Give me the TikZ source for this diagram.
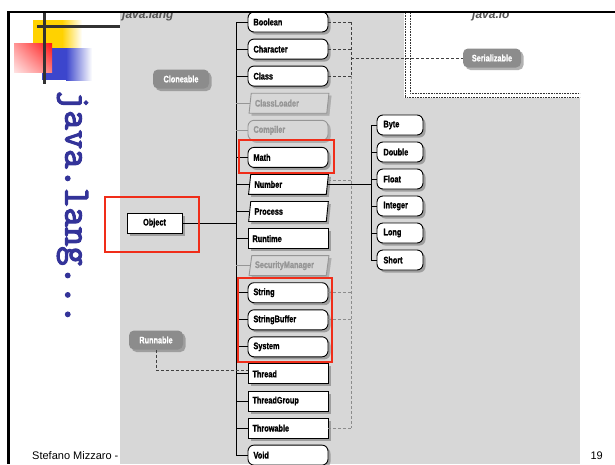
\documentclass[tikz,border=0pt]{standalone}
\usepackage{fontspec}
\setmainfont{Liberation Sans}
\newfontfamily\boxfont[FakeStretch=0.77,FakeBold=1.2]{Liberation Sans}
\newfontfamily\titlefont[FakeBold=3]{lmmono10-regular.otf}
\usetikzlibrary{shapes.geometric,shadows,shadings,calc}

\definecolor{bggray}{RGB}{215,215,215}
\definecolor{titleblue}{RGB}{51,51,153}
\definecolor{hlred}{RGB}{240,45,25}
\definecolor{ifgray}{RGB}{140,140,140}
\definecolor{absgray}{RGB}{150,150,150}
\definecolor{barcol}{RGB}{50,50,50}
\definecolor{logoyellow}{RGB}{255,210,0}
\definecolor{logored}{RGB}{255,20,20}
\definecolor{logoblue}{RGB}{60,70,205}
\definecolor{pkgtext}{RGB}{85,85,85}

\begin{document}
\begin{tikzpicture}[x=1pt,y=-1pt,
  boxtext/.style={font=\boxfont\bfseries\fontsize{9.5}{10}\selectfont},
  shad/.style={drop shadow={shadow xshift=2.5pt,shadow yshift=-2.5pt,fill=black!60}},
  lightshad/.style={drop shadow={shadow xshift=2.5pt,shadow yshift=-2.5pt,fill=black!25}},
  clsbox/.style={boxtext,shad,draw=black,line width=0.9pt,fill=white,minimum height=20pt,
    text width=71pt,inner xsep=4.5pt,inner ysep=0pt,align=left},
  roundbox/.style={clsbox,rounded corners=6pt,text width=69pt,inner xsep=5.5pt},
  slantbox/.style={boxtext,shad,draw=black,line width=0.9pt,fill=white,trapezium,
    trapezium left angle=74,trapezium right angle=106,trapezium stretches=true,
    minimum height=20pt,minimum width=80pt,text width=68pt,inner xsep=1pt,inner ysep=0pt,align=left},
  absbox/.style={draw=absgray,text=absgray,fill=bggray,lightshad},
  numbox/.style={clsbox,rounded corners=6pt,text width=33pt,inner xsep=6.5pt},
  ifbox/.style={boxtext,shad,fill=ifgray,text=white,rounded corners=5pt,minimum height=19pt,
    inner ysep=0pt,align=center},
  tree/.style={line width=1pt,black},
  graytree/.style={line width=1pt,absgray},
  darkdash/.style={black!75,line width=0.7pt,dash pattern=on 3pt off 2pt},
  graydash/.style={black!45,line width=0.7pt,dash pattern=on 3pt off 2pt},
  dotline/.style={black!80,line width=0.6pt,dash pattern=on 0.8pt off 0.8pt},
  hl/.style={draw=hlred,line width=2pt}
]
\useasboundingbox (0,0) rectangle (615,464);
\fill[white] (0,0) rectangle (615,464);

% footer
\node[anchor=base west,font=\fontsize{11}{13}\selectfont,inner sep=0pt] (author) at (32,459) {Stefano Mizzaro -};
\node[anchor=base east,font=\fontsize{11}{13}\selectfont,inner sep=0pt] (pagenum) at (603,459) {19};

% gray diagram area
\fill[bggray] (120,13) rectangle (580,464);

\begin{scope}
\clip (120,13) rectangle (580,464);
% java.io package area
\fill[white] (404,13) rectangle (580,98);
\draw[dotline] (405,13) -- (405,97.5) -- (580,97.5);
\draw[dotline] (410,13) -- (410,93) -- (580,93);
\node[anchor=base west,font=\itshape\bfseries\fontsize{12}{14}\selectfont,text=pkgtext,inner sep=0pt] (langlbl) at (122,18.5) {java.lang};
\node[anchor=base west,font=\itshape\bfseries\fontsize{12}{14}\selectfont,text=pkgtext,inner sep=0pt] (iolbl) at (472,18.5) {java.io};

% interfaces
\node[ifbox,minimum width=58pt] (serial) at (492,58) {Serializable};
\node[ifbox,minimum width=56pt] (clone) at (181,79) {Cloneable};
\node[ifbox,minimum width=54pt] (runnable) at (156,340) {Runnable};

% Object
\node[clsbox,text width=47pt,inner xsep=4pt,align=center] (object) at (154.5,223) {Object};

% main column
\node[roundbox] (Boolean) at (288,22) {Boolean};
\node[roundbox] (Character) at (288,49.1) {Character};
\node[roundbox] (Class) at (288,76.1) {Class};
\node[slantbox,absbox] (ClassLoader) at (289,103.2) {ClassLoader};
\node[roundbox,absbox] (Compiler) at (288,130.3) {Compiler};
\node[roundbox] (Math) at (288,157.4) {Math};
\node[slantbox] (Number) at (288.5,184.4) {Number};
\node[slantbox] (Process) at (288.5,211.5) {Process};
\node[clsbox] (Runtime) at (288,238.6) {Runtime};
\node[slantbox,absbox] (SecurityManager) at (289,265.6) {SecurityManager};
\node[roundbox] (String) at (288,292.7) {String};
\node[roundbox] (StringBuffer) at (288,319.8) {StringBuffer};
\node[roundbox] (System) at (288,346.8) {System};
\node[clsbox] (Thread) at (288,373.9) {Thread};
\node[clsbox] (ThreadGroup) at (288,401) {ThreadGroup};
\node[clsbox] (Throwable) at (288,428.1) {Throwable};
\node[roundbox] (Void) at (288,455.1) {Void};

% number subclasses
\node[numbox] (Byte) at (400,125) {Byte};
\node[numbox] (Double) at (400,152) {Double};
\node[numbox] (Float) at (400,179) {Float};
\node[numbox] (Integer) at (400,206) {Integer};
\node[numbox] (Long) at (400,233) {Long};
\node[numbox] (Short) at (400,260) {Short};

% trunk
\coordinate (trunkTop) at (236,22);
\coordinate (trunkBot) at (236,455.1);
\draw[tree] (trunkTop) -- (trunkBot);
\draw[tree] (object.east) -- (trunkTop |- object.east);
\foreach \c in {Boolean,Character,Class,Math,Number,Process,Runtime,String,StringBuffer,System,Thread,ThreadGroup,Throwable,Void}
  \draw[tree] (trunkTop |- \c.west) -- (\c.west);
\foreach \c in {ClassLoader,Compiler,SecurityManager}
  \draw[graytree] (trunkTop |- \c.west) -- (\c.west);

% number trunk
\coordinate (numTop) at (371,125);
\coordinate (numBot) at (371,260);
\draw[tree] (numTop) -- (numBot);
\draw[tree] (Number.east) -- (numTop |- Number.east);
\foreach \c in {Byte,Double,Float,Integer,Long,Short}
  \draw[tree] (numTop |- \c.west) -- (\c.west);

% Serializable dashed links
\coordinate (serTop) at (351,22);
\coordinate (serMid) at (351,76.1);
\coordinate (serBot) at (351,428.1);
\draw[darkdash] (serTop) -- (serMid);
\draw[graydash] (serMid) -- (serBot);
\foreach \c in {Boolean,Character,Class}
  \draw[darkdash] (\c.east) -- (serTop |- \c.east);
\draw[darkdash] (serTop |- serial.west) -- (serial.west);
\coordinate (numDash) at ([yshift=4pt]Number.east);
\draw[graydash] (numDash) -- (serTop |- numDash);
\foreach \c in {String,StringBuffer,Throwable}
  \draw[graydash] (\c.east) -- (serTop |- \c.east);

% Runnable dashed link
\coordinate (threadIn) at ([yshift=4pt]Thread.west);
\draw[darkdash] (runnable.south) |- (threadIn);
\end{scope}

% red highlights
\draw[hl] (105,197) rectangle (199,252);
\draw[hl] (239,140) rectangle (334,173);
\draw[hl] (238,278) rectangle (332,362);

% logo
\fill[logoyellow] (33,20) rectangle (62,48);
\shade[left color=logoyellow,right color=white] (62,20) rectangle (82,48);
\fill[logoblue] (42,48) rectangle (66,80);
\shade[left color=logoblue,right color=white] (66,48) rectangle (92,80);
\shade[upper left=logored!45!white,upper right=logored,lower left=logored!12!white,lower right=logored!55!white] (14,43) rectangle (52,72);
\draw[barcol,line width=3pt] (44,13) -- (44,84);
\draw[barcol,line width=3pt] (37,26) -- (120,26);

% title
\node[rotate=-90,font=\titlefont\fontsize{37}{37}\selectfont,text=titleblue,inner sep=0pt] (title) at (72.5,207.5) {java.lang...};

% frame
\draw[black,line width=2.5pt] (8.5,11) -- (8.5,464);
\draw[black,line width=2.5pt] (7.25,12) -- (615,12);
\end{tikzpicture}
\end{document}
